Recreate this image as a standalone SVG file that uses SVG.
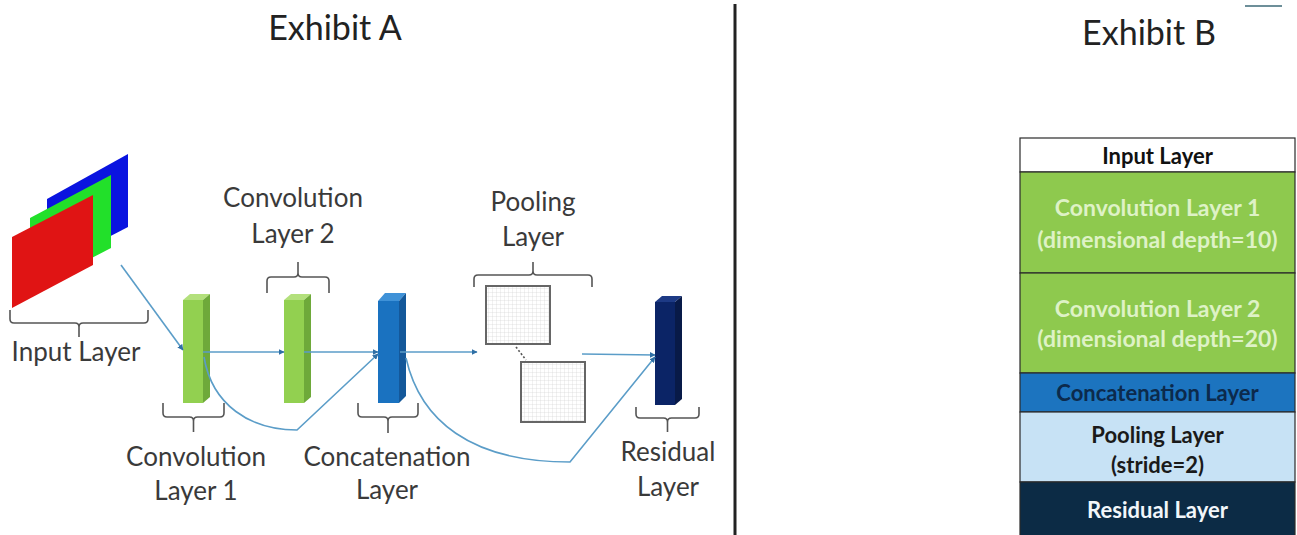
<svg xmlns="http://www.w3.org/2000/svg" width="1297" height="535" viewBox="0 0 1297 535">
<style>
.lbl{font-family:Lato,"Open Sans","Liberation Sans",sans-serif;font-size:26px;fill:#3a3a3a;text-anchor:middle}
.title{font-family:Lato,"Open Sans","Liberation Sans",sans-serif;font-size:34px;fill:#222;text-anchor:middle}
.brace{fill:none;stroke:#555;stroke-width:1.6}
.conn{fill:none;stroke:#5b9dc8;stroke-width:1.6}
.bt{font-family:Lato,"Open Sans","Liberation Sans",sans-serif;font-size:22px;font-weight:700;text-anchor:middle}
.bc{font-size:23px;fill:#def2c6}
.row{stroke:#2a2a2a;stroke-width:1.2}
.sq{fill:url(#grid);stroke:#666;stroke-width:2}
</style>
<defs>
<marker id="arr" viewBox="0 0 10 10" refX="9" refY="5" markerWidth="6" markerHeight="6" orient="auto" markerUnits="userSpaceOnUse">
<path d="M0,0 L10,5 L0,10 z" fill="#2f6fa5"/>
</marker>
<pattern id="grid" width="4" height="4" patternUnits="userSpaceOnUse">
<rect width="4" height="4" fill="#fff"/>
<path d="M4,0 L0,0 L0,4" fill="none" stroke="#cfcfcf" stroke-width="0.6"/>
</pattern>
</defs>
<rect width="1297" height="535" fill="#fff"/>

<!-- divider and mark -->
<line x1="735" y1="4" x2="735" y2="535" stroke="#222" stroke-width="3"/>
<line x1="1245" y1="6" x2="1282" y2="6" stroke="#6d8f99" stroke-width="2"/>

<text class="title" x="335" y="40">Exhibit A</text>
<text class="title" x="1149" y="45">Exhibit B</text>

<!-- Exhibit A nodes -->
<g id="input-layer">
<polygon points="47,199 128,154 128,227 47,269" fill="#0a14e0"/>
<polygon points="30,218 111,175 111,248 30,290" fill="#22e02a"/>
<polygon points="12,237 93,195 93,265 12,308" fill="#e01414"/>
<path class="brace" d="M10,310 L10,319 Q10,323 14,323 L75,323 Q79,323 79,327 L79,337 M79,327 Q79,323 83,323 L144,323 Q148,323 148,319 L148,310"/>
<text class="lbl" x="76" y="361">Input Layer</text>
</g>

<g id="conv1">
<polygon points="183,300 190,294 210,294 203,300" fill="#b3e07c"/>
<polygon points="203,300 210,294 210,397 203,403" fill="#6ea93a"/>
<rect x="183" y="300" width="20" height="103" fill="#92d050"/>
<path class="brace" d="M163,403 L163,413 Q163,417 167,417 L189.5,417 Q193.5,417 193.5,421 L193.5,432 M193.5,421 Q193.5,417 197.5,417 L220,417 Q224,417 224,413 L224,403"/>
<text class="lbl" x="196" y="466">Convolution</text>
<text class="lbl" x="196" y="500">Layer 1</text>
</g>

<g id="conv2">
<polygon points="284,300 291,294 311,294 304,300" fill="#b3e07c"/>
<polygon points="304,300 311,294 311,397 304,403" fill="#6ea93a"/>
<rect x="284" y="300" width="20" height="103" fill="#92d050"/>
<path class="brace" d="M267,293 L267,281 Q267,277 271,277 L294,277 Q298,277 298,273 L298,262 M298,273 Q298,277 302,277 L325,277 Q329,277 329,281 L329,293"/>
<text class="lbl" x="293" y="207">Convolution</text>
<text class="lbl" x="293" y="243">Layer 2</text>
</g>

<g id="concat">
<polygon points="378,301 385,293 406,293 399,301" fill="#3f92d8"/>
<polygon points="399,301 406,293 406,396 399,403" fill="#14589a"/>
<rect x="378" y="301" width="21" height="102" fill="#1a72c0"/>
<path class="brace" d="M358,403 L358,413 Q358,417 362,417 L384,417 Q388,417 388,421 L388,433 M388,421 Q388,417 392,417 L414,417 Q418,417 418,413 L418,403"/>
<text class="lbl" x="387" y="466">Concatenation</text>
<text class="lbl" x="387" y="499">Layer</text>
</g>

<g id="pooling">
<rect class="sq" x="486" y="286" width="64" height="58"/>
<rect class="sq" x="521" y="362" width="64" height="60"/>
<line x1="516" y1="347" x2="526" y2="360" stroke="#555" stroke-width="1.6" stroke-dasharray="2,2"/>
<path class="brace" d="M474,287 L474,279 Q474,275 478,275 L529,275 Q533,275 533,271 L533,262 M533,271 Q533,275 537,275 L588,275 Q592,275 592,279 L592,287"/>
<text class="lbl" x="533" y="211">Pooling</text>
<text class="lbl" x="533" y="246">Layer</text>
</g>

<g id="residual">
<polygon points="655,302 662,296 682,296 675,302" fill="#1d3a85"/>
<polygon points="675,302 682,296 682,399 675,405" fill="#081a48"/>
<rect x="655" y="302" width="20" height="103" fill="#0b2466"/>
<path class="brace" d="M636,407 L636,414 Q636,418 640,418 L663.5,418 Q667.5,418 667.5,422 L667.5,432 M667.5,422 Q667.5,418 671.5,418 L695,418 Q699,418 699,414 L699,407"/>
<text class="lbl" x="668" y="461">Residual</text>
<text class="lbl" x="668" y="496">Layer</text>
</g>

<!-- connectors -->
<g id="connectors">
<path class="conn" d="M121,265 L183,350" marker-end="url(#arr)"/>
<path class="conn" d="M203,352 L284,352" marker-end="url(#arr)"/>
<path class="conn" d="M304,352 L378,352" marker-end="url(#arr)"/>
<path class="conn" d="M204,357 C212,405 250,430 297,430 L378,354" marker-end="url(#arr)"/>
<path class="conn" d="M400,352 L477,352" marker-end="url(#arr)"/>
<path class="conn" d="M582,354 L655,355" marker-end="url(#arr)"/>
<path class="conn" d="M406,358 C420,420 470,462 570,462 L655,357" marker-end="url(#arr)"/>
</g>

<!-- Exhibit B -->
<g id="b-input">
<rect class="row" x="1020" y="138" width="275" height="34" fill="#ffffff"/>
<text class="bt" x="1157.5" y="164" fill="#111">Input Layer</text>
</g>
<g id="b-conv1">
<rect class="row" x="1020" y="172" width="275" height="101" fill="#8ec94e"/>
<text class="bt bc" x="1157.5" y="216">Convolution Layer 1</text>
<text class="bt bc" x="1157.5" y="248">(dimensional depth=10)</text>
</g>
<g id="b-conv2">
<rect class="row" x="1020" y="273" width="275" height="100" fill="#8ec94e"/>
<text class="bt bc" x="1157.5" y="317">Convolution Layer 2</text>
<text class="bt bc" x="1157.5" y="347">(dimensional depth=20)</text>
</g>
<g id="b-concat">
<rect class="row" x="1020" y="373" width="275" height="39" fill="#1c74bf"/>
<text class="bt" x="1157.5" y="401" fill="#0c2a4c">Concatenation Layer</text>
</g>
<g id="b-pooling">
<rect class="row" x="1020" y="412" width="275" height="70" fill="#c7e2f5"/>
<text class="bt" x="1157.5" y="443" fill="#1a1a1a">Pooling Layer</text>
<text class="bt" x="1157.5" y="473" fill="#1a1a1a">(stride=2)</text>
</g>
<g id="b-residual">
<rect class="row" x="1020" y="482" width="275" height="55" fill="#0c2b45"/>
<text class="bt" x="1157.5" y="518" fill="#f2f6fa">Residual Layer</text>
</g>
</svg>
